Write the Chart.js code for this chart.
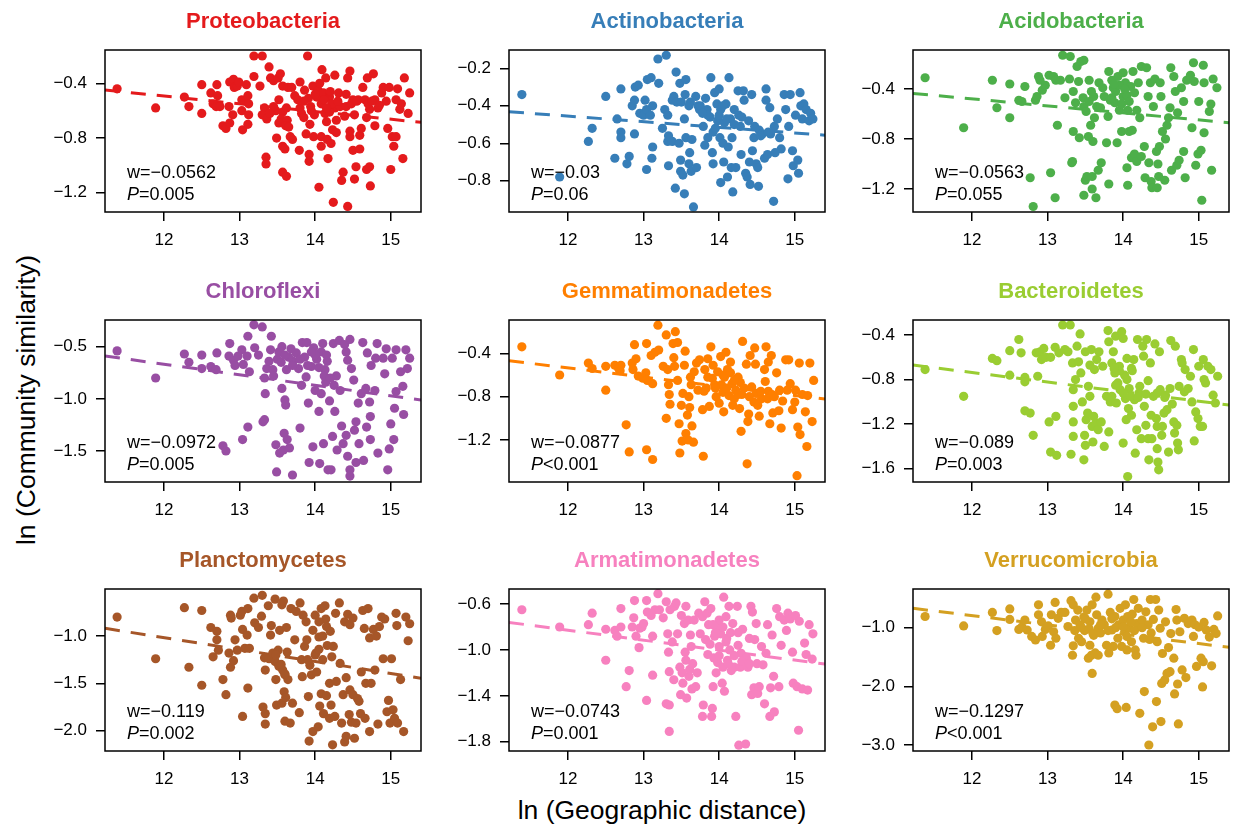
<!DOCTYPE html>
<html>
<head>
<meta charset="utf-8">
<script src="https://cdn.jsdelivr.net/npm/chart.js@4.4.1/dist/chart.umd.min.js"></script>
<style>
  body { margin: 0; background: #fff; }
  #page { position: relative; width: 1236px; height: 827px; overflow: hidden;
          font-family: "Liberation Sans", Arial, Helvetica, sans-serif; }
  canvas { position: absolute; }
  .axis-title { position: absolute; font-size: 26.5px; color: #000; white-space: nowrap; }
  #ylab { left: 26px; top: 400px; transform: translate(-50%, -50%) rotate(-90deg); }
  #xlab { left: 662px; top: 810px; transform: translate(-50%, -50%); }
</style>
</head>
<body>
<div id="page">
  <div id="ylab" class="axis-title">ln (Community similarity)</div>
  <div id="xlab" class="axis-title">ln (Geographic distance)</div>
</div>
<script>
// Panels (phyla), in reading order
const panelNames = ["Proteobacteria", "Actinobacteria", "Acidobacteria",
  "Chloroflexi", "Gemmatimonadetes", "Bacteroidetes",
  "Planctomycetes", "Armatimonadetes", "Verrucomicrobia"];
const panelColors = ["#E41A1C", "#377EB8", "#4DAF4A", "#984EA3", "#FF7F00",
  "#9ACD32", "#A65628", "#F781BF", "#D4A021"];

// Statistics printed in each panel
const wLabels = ["−0.0562", "−0.03", "−0.0563", "−0.0972", "−0.0877",
  "−0.089", "−0.119", "−0.0743", "−0.1297"];
const pLabels = ["=0.005", "=0.06", "=0.055", "=0.005", "<0.001",
  "=0.003", "=0.002", "=0.001", "<0.001"];

// Fitted dashed lines (intercept, slope)
const trendIntercepts = [0.185, -0.095, 0.193, 0.544, 0.481, 0.296, 0.495, 0.216, 1.114];
const trendSlopes = [-0.0565, -0.030, -0.056, -0.101, -0.0846, -0.086, -0.126, -0.087, -0.159];

// Axes
const xMin = 11.22, xMax = 15.40;
const xTicks = [12, 13, 14, 15];
const yMins = [-1.341, -0.967, -1.384, -1.797, -1.588, -1.719, -2.215, -1.881, -3.102];
const yMaxs = [-0.156, -0.102, -0.088, -0.244, -0.092, -0.265, -0.503, -0.469, -0.341];
const yTicks = [
  [-0.4, -0.8, -1.2],
  [-0.2, -0.4, -0.6, -0.8],
  [-0.4, -0.8, -1.2],
  [-0.5, -1.0, -1.5],
  [-0.4, -0.8, -1.2],
  [-0.4, -0.8, -1.2, -1.6],
  [-1.0, -1.5, -2.0],
  [-0.6, -1.0, -1.4, -1.8],
  [-1.0, -2.0, -3.0]
];

// [ln distance, ln similarity] pairs
const proteobacteria = [[11.38,-0.44],[11.89,-0.58],[12.27,-0.50],[12.33,-0.57],[12.50,-0.41],[12.50,-0.62],[12.62,-0.47],[12.65,-0.55],[12.70,-0.41],[12.71,-0.49],[12.69,-0.57],[12.74,-0.57],[12.78,-0.71],[12.82,-0.73],[12.87,-0.69],[12.86,-0.57],[12.87,-0.39],[12.92,-0.37],[12.93,-0.43],[12.91,-0.63],[12.97,-0.42],[12.99,-0.39],[13.03,-0.52],[13.03,-0.60],[13.04,-0.74],[13.09,-0.41],[13.11,-0.49],[13.12,-0.55],[13.12,-0.63],[13.11,-0.70],[13.19,-0.20],[13.30,-0.20],[13.19,-0.35],[13.27,-0.42],[13.33,-0.58],[13.30,-0.63],[13.35,-0.94],[13.35,-0.99],[13.36,-0.66],[13.39,-0.28],[13.41,-0.36],[13.45,-0.38],[13.48,-0.60],[13.49,-0.80],[13.51,-0.36],[13.54,-0.33],[13.57,-0.42],[13.52,-0.52],[13.57,-0.61],[13.55,-0.66],[13.52,-0.69],[13.57,-0.86],[13.60,-0.88],[13.57,-1.05],[13.62,-1.08],[13.63,-0.67],[13.61,-0.71],[13.65,-0.72],[13.64,-0.43],[13.69,-0.43],[13.70,-0.81],[13.67,-0.79],[13.73,-0.49],[13.77,-0.52],[13.79,-0.89],[13.80,-0.39],[13.80,-0.58],[13.82,-0.62],[13.85,-0.65],[13.86,-0.45],[13.88,-0.77],[13.90,-0.20],[13.91,-0.51],[13.92,-0.92],[13.92,-0.97],[13.93,-0.70],[13.94,-0.57],[13.97,-0.42],[13.98,-0.79],[13.99,-0.63],[14.02,-0.50],[14.04,-0.45],[14.05,-1.16],[14.06,-0.40],[14.08,-0.55],[14.08,-0.86],[14.08,-0.79],[14.09,-0.30],[14.11,-0.47],[14.13,-0.62],[14.14,-0.36],[14.15,-0.68],[14.16,-0.81],[14.17,-0.95],[14.19,-0.50],[14.21,-0.84],[14.23,-0.74],[14.24,-1.27],[14.26,-0.34],[14.26,-0.58],[14.28,-0.76],[14.28,-0.67],[14.31,-0.47],[14.33,-0.57],[14.35,-1.11],[14.37,-1.05],[14.39,-0.64],[14.41,-0.48],[14.43,-1.30],[14.43,-0.36],[14.46,-0.31],[14.46,-0.79],[14.46,-0.75],[14.50,-0.89],[14.52,-1.10],[14.54,-1.01],[14.52,-0.63],[14.57,-0.52],[14.59,-0.78],[14.59,-0.88],[14.61,-0.73],[14.63,-0.43],[14.66,-0.52],[14.68,-0.65],[14.68,-1.03],[14.69,-0.36],[14.72,-1.01],[14.73,-1.15],[14.72,-0.59],[14.77,-0.33],[14.79,-0.71],[14.79,-0.52],[14.83,-0.58],[14.88,-0.47],[14.90,-0.43],[14.94,-0.53],[14.96,-0.73],[14.98,-0.43],[15.00,-1.03],[15.02,-0.79],[15.04,-0.86],[15.07,-0.52],[15.07,-0.79],[15.09,-0.44],[15.12,-0.59],[15.16,-0.95],[15.18,-0.36],[15.23,-0.62],[15.25,-0.47],[15.14,-0.55],[14.50,-0.52],[14.41,-0.57],[14.19,-0.61],[14.00,-0.48],[14.12,-0.52],[14.22,-0.55],[14.30,-0.53],[14.48,-0.55],[14.55,-0.53],[14.70,-0.55],[14.75,-0.53],[14.85,-0.56],[13.45,-0.57],[13.40,-0.62],[13.62,-0.58],[13.85,-0.53],[13.95,-0.60],[14.15,-0.58],[14.20,-0.46]];

const actinobacteria = [[11.39,-0.34],[11.89,-0.78],[12.27,-0.59],[12.32,-0.52],[12.50,-0.35],[12.62,-0.68],[12.65,-0.47],[12.70,-0.31],[12.70,-0.54],[12.70,-0.57],[12.78,-0.71],[12.81,-0.67],[12.85,-0.40],[12.88,-0.55],[12.88,-0.37],[12.89,-0.30],[12.93,-0.29],[12.95,-0.44],[13.02,-0.37],[13.00,-0.45],[13.04,-0.42],[13.04,-0.74],[13.05,-0.26],[13.10,-0.25],[13.12,-0.40],[13.12,-0.62],[13.11,-0.68],[13.09,-0.45],[13.19,-0.15],[13.30,-0.13],[13.20,-0.28],[13.25,-0.52],[13.28,-0.42],[13.32,-0.45],[13.32,-0.59],[13.33,-0.72],[13.33,-0.56],[13.38,-0.37],[13.38,-0.59],[13.42,-0.84],[13.43,-0.22],[13.40,-0.35],[13.44,-0.38],[13.47,-0.60],[13.48,-0.28],[13.49,-0.69],[13.49,-0.75],[13.52,-0.77],[13.54,-0.87],[13.54,-0.47],[13.56,-0.26],[13.55,-0.34],[13.56,-0.57],[13.60,-0.71],[13.61,-0.65],[13.62,-0.38],[13.64,-0.58],[13.63,-0.75],[13.66,-0.94],[13.69,-0.35],[13.70,-0.73],[13.72,-0.40],[13.74,-0.42],[13.79,-0.51],[13.81,-0.61],[13.82,-0.36],[13.84,-0.42],[13.85,-0.57],[13.88,-0.46],[13.89,-0.25],[13.91,-0.65],[13.92,-0.71],[13.92,-0.54],[13.94,-0.33],[13.97,-0.39],[13.98,-0.48],[14.00,-0.31],[14.01,-0.57],[14.02,-0.81],[14.02,-0.42],[14.05,-0.60],[14.06,-0.70],[14.07,-0.49],[14.09,-0.39],[14.11,-0.78],[14.13,-0.25],[14.15,-0.47],[14.16,-0.73],[14.17,-0.57],[14.18,-0.86],[14.20,-0.42],[14.22,-0.73],[14.25,-0.32],[14.26,-0.45],[14.28,-0.51],[14.29,-0.66],[14.32,-0.32],[14.33,-0.37],[14.35,-0.76],[14.37,-0.78],[14.39,-0.48],[14.41,-0.82],[14.43,-0.34],[14.44,-0.64],[14.46,-0.57],[14.47,-0.51],[14.49,-0.71],[14.51,-0.73],[14.52,-0.83],[14.53,-0.53],[14.57,-0.55],[14.60,-0.68],[14.62,-0.31],[14.62,-0.37],[14.64,-0.66],[14.67,-0.41],[14.68,-0.55],[14.72,-0.91],[14.73,-0.51],[14.74,-0.65],[14.77,-0.47],[14.80,-0.57],[14.82,-0.63],[14.86,-0.34],[14.88,-0.42],[14.91,-0.79],[14.92,-0.51],[14.94,-0.34],[14.97,-0.64],[14.98,-0.72],[15.01,-0.45],[15.04,-0.69],[15.05,-0.76],[15.07,-0.33],[15.08,-0.40],[15.10,-0.47],[15.12,-0.39],[15.15,-0.42],[15.19,-0.48],[15.21,-0.44],[15.24,-0.47],[13.75,-0.40],[13.85,-0.45],[13.95,-0.52],[14.00,-0.45],[14.05,-0.40],[14.10,-0.47],[14.20,-0.50],[14.30,-0.46],[14.55,-0.56],[14.65,-0.54],[13.50,-0.38],[13.60,-0.40],[13.78,-0.44],[14.12,-0.62],[14.40,-0.70]];

const acidobacteria = [[11.38,-0.31],[11.89,-0.71],[12.27,-0.33],[12.33,-0.55],[12.50,-0.36],[12.50,-0.63],[12.62,-0.49],[12.66,-0.50],[12.70,-0.38],[12.77,-1.11],[12.81,-1.34],[12.84,-0.49],[12.86,-0.46],[12.88,-0.30],[12.90,-0.33],[12.93,-0.41],[12.97,-0.37],[13.02,-0.29],[13.04,-1.07],[13.08,-0.30],[13.10,-1.27],[13.11,-0.33],[13.13,-0.69],[13.17,-0.33],[13.20,-0.13],[13.23,-0.47],[13.30,-0.14],[13.29,-0.32],[13.32,-0.99],[13.33,-0.98],[13.34,-0.42],[13.34,-0.74],[13.37,-0.51],[13.39,-0.22],[13.41,-0.34],[13.42,-0.79],[13.44,-0.18],[13.48,-0.17],[13.47,-0.47],[13.48,-0.54],[13.48,-1.25],[13.50,-1.13],[13.51,-0.58],[13.52,-1.10],[13.54,-0.78],[13.55,-0.33],[13.57,-0.69],[13.59,-1.20],[13.59,-1.10],[13.60,-0.82],[13.61,-0.46],[13.62,-0.63],[13.64,-1.27],[13.65,-0.54],[13.67,-1.05],[13.68,-0.35],[13.71,-0.99],[13.73,-0.39],[13.75,-0.46],[13.78,-0.83],[13.80,-0.62],[13.81,-0.26],[13.81,-1.16],[13.83,-0.49],[13.85,-0.33],[13.87,-0.39],[13.89,-0.51],[13.92,-0.83],[13.93,-0.30],[13.95,-0.57],[13.98,-0.74],[14.00,-0.27],[14.00,-0.46],[14.03,-0.35],[14.05,-1.03],[14.06,-1.17],[14.06,-0.57],[14.08,-0.74],[14.11,-0.95],[14.12,-0.73],[14.13,-0.26],[14.15,-0.92],[14.18,-0.98],[14.18,-0.57],[14.20,-0.35],[14.22,-0.63],[14.24,-0.94],[14.24,-0.22],[14.28,-0.86],[14.29,-1.11],[14.31,-0.23],[14.33,-0.46],[14.34,-0.99],[14.36,-0.35],[14.37,-1.14],[14.38,-1.19],[14.40,-0.54],[14.42,-0.32],[14.44,-0.90],[14.45,-1.19],[14.46,-1.00],[14.47,-1.10],[14.48,-0.86],[14.49,-0.35],[14.50,-0.46],[14.52,-0.74],[14.55,-1.13],[14.56,-0.80],[14.58,-0.69],[14.60,-0.63],[14.62,-0.55],[14.63,-0.23],[14.64,-1.05],[14.67,-0.30],[14.69,-0.42],[14.71,-1.01],[14.72,-0.59],[14.74,-0.97],[14.77,-0.39],[14.80,-0.50],[14.80,-0.90],[14.82,-1.11],[14.84,-0.33],[14.89,-0.29],[14.91,-0.71],[14.93,-0.19],[14.94,-0.34],[14.96,-1.01],[14.99,-0.92],[15.00,-0.50],[15.03,-0.89],[15.04,-1.29],[15.06,-0.21],[15.07,-0.75],[15.07,-0.35],[15.14,-0.58],[15.16,-0.52],[15.17,-1.05],[15.19,-0.32],[15.24,-0.39],[13.90,-0.42],[13.95,-0.37],[14.05,-0.45],[14.10,-0.38],[13.85,-0.47],[14.15,-0.43],[13.98,-0.52],[14.02,-0.40],[13.88,-0.36],[14.08,-0.50],[13.58,-0.42],[13.70,-0.55],[13.55,-0.50]];

const chloroflexi = [[11.38,-0.54],[11.89,-0.80],[12.27,-0.57],[12.33,-0.65],[12.50,-0.58],[12.50,-0.71],[12.62,-0.69],[12.69,-0.72],[12.70,-0.56],[12.78,-1.45],[12.82,-1.50],[12.86,-0.59],[12.87,-0.47],[12.92,-0.63],[12.94,-0.68],[12.98,-0.59],[13.03,-0.53],[13.04,-1.39],[13.05,-0.67],[13.10,-0.59],[13.11,-0.40],[13.11,-1.27],[13.13,-0.74],[13.19,-0.29],[13.30,-0.31],[13.20,-0.51],[13.25,-0.58],[13.31,-1.22],[13.33,-1.20],[13.34,-0.95],[13.33,-0.80],[13.36,-0.71],[13.39,-0.64],[13.41,-0.53],[13.42,-0.40],[13.44,-0.72],[13.48,-1.44],[13.49,-1.70],[13.50,-0.62],[13.52,-0.55],[13.53,-1.52],[13.56,-0.50],[13.56,-0.90],[13.58,-1.49],[13.59,-1.33],[13.60,-1.01],[13.61,-1.06],[13.62,-0.72],[13.63,-1.39],[13.66,-1.47],[13.68,-0.52],[13.70,-1.73],[13.71,-0.64],[13.75,-0.56],[13.78,-0.71],[13.80,-1.28],[13.82,-0.87],[13.83,-0.46],[13.86,-0.60],[13.88,-0.79],[13.89,-0.46],[13.91,-1.04],[13.92,-1.61],[13.95,-0.69],[13.97,-1.46],[13.98,-0.51],[14.00,-0.92],[14.02,-0.62],[14.05,-1.12],[14.06,-1.62],[14.08,-0.55],[14.08,-0.95],[14.10,-0.47],[14.11,-1.43],[14.13,-0.72],[14.14,-0.84],[14.16,-0.64],[14.17,-1.68],[14.19,-1.02],[14.21,-1.68],[14.23,-1.36],[14.24,-0.47],[14.25,-0.87],[14.26,-1.12],[14.28,-0.78],[14.29,-1.49],[14.32,-0.44],[14.33,-0.92],[14.35,-1.26],[14.37,-1.43],[14.39,-0.48],[14.41,-0.55],[14.41,-1.35],[14.43,-0.63],[14.43,-1.55],[14.46,-0.43],[14.46,-1.68],[14.46,-1.74],[14.48,-0.71],[14.51,-0.82],[14.52,-1.30],[14.54,-1.22],[14.54,-1.61],[14.57,-1.04],[14.58,-1.43],[14.61,-0.95],[14.63,-0.46],[14.64,-1.59],[14.67,-0.90],[14.68,-1.27],[14.69,-0.56],[14.72,-1.03],[14.73,-1.17],[14.73,-1.39],[14.74,-0.68],[14.79,-0.92],[14.80,-0.61],[14.82,-0.47],[14.83,-1.52],[14.90,-0.61],[14.92,-0.76],[14.94,-0.52],[14.96,-1.68],[14.98,-1.48],[15.00,-1.24],[15.02,-0.61],[15.04,-1.39],[15.05,-1.09],[15.07,-0.53],[15.07,-0.93],[15.13,-0.74],[15.16,-0.88],[15.17,-1.15],[15.20,-0.53],[15.22,-0.71],[15.25,-0.61],[13.55,-0.65],[13.65,-0.60],[13.80,-0.62],[13.90,-0.68],[14.00,-0.58],[14.05,-0.70],[14.15,-0.58],[13.45,-0.78],[13.70,-0.68],[13.60,-0.58],[14.12,-0.78],[14.20,-0.80],[13.95,-0.55]];

const gemmatimonadetes = [[11.39,-0.34],[11.89,-0.60],[12.27,-0.49],[12.32,-0.54],[12.50,-0.52],[12.50,-0.74],[12.62,-0.51],[12.67,-0.54],[12.70,-0.51],[12.69,-0.56],[12.77,-1.06],[12.81,-1.31],[12.85,-0.49],[12.86,-0.55],[12.88,-0.32],[12.90,-0.45],[12.93,-0.61],[12.99,-0.63],[13.03,-0.58],[13.04,-0.31],[13.04,-1.29],[13.05,-0.65],[13.10,-0.42],[13.12,-1.38],[13.12,-0.68],[13.15,-0.39],[13.19,-0.14],[13.20,-0.37],[13.26,-0.52],[13.30,-0.23],[13.30,-1.00],[13.32,-0.55],[13.33,-0.69],[13.34,-0.78],[13.35,-0.87],[13.39,-0.31],[13.40,-0.44],[13.41,-0.52],[13.42,-0.20],[13.45,-0.30],[13.45,-0.65],[13.47,-1.05],[13.48,-1.32],[13.50,-0.88],[13.51,-1.21],[13.52,-0.77],[13.54,-0.51],[13.55,-0.38],[13.56,-1.14],[13.58,-0.97],[13.59,-1.20],[13.60,-0.80],[13.61,-0.90],[13.62,-0.62],[13.63,-0.69],[13.64,-1.07],[13.66,-1.22],[13.67,-0.57],[13.70,-0.49],[13.72,-0.74],[13.74,-0.46],[13.78,-0.92],[13.79,-1.35],[13.81,-0.55],[13.83,-0.72],[13.85,-0.45],[13.87,-0.89],[13.89,-0.34],[13.91,-0.63],[13.92,-0.51],[13.94,-0.69],[13.96,-0.80],[13.98,-0.57],[14.00,-0.86],[14.02,-0.43],[14.03,-0.69],[14.05,-0.76],[14.06,-0.94],[14.07,-0.62],[14.09,-0.39],[14.11,-0.55],[14.13,-0.79],[14.15,-0.48],[14.17,-0.68],[14.18,-0.88],[14.20,-0.82],[14.22,-0.74],[14.25,-0.62],[14.27,-0.91],[14.28,-0.67],[14.29,-1.12],[14.31,-0.29],[14.33,-0.72],[14.36,-0.50],[14.37,-1.42],[14.38,-1.03],[14.39,-0.96],[14.41,-0.42],[14.43,-0.71],[14.46,-0.85],[14.47,-0.35],[14.48,-0.50],[14.49,-0.77],[14.51,-0.88],[14.53,-0.98],[14.56,-0.82],[14.60,-0.55],[14.61,-0.66],[14.62,-0.34],[14.64,-0.82],[14.65,-0.48],[14.67,-1.05],[14.69,-0.42],[14.71,-0.95],[14.73,-0.80],[14.76,-0.58],[14.79,-0.93],[14.80,-0.74],[14.82,-1.09],[14.84,-0.84],[14.88,-0.46],[14.90,-0.74],[14.92,-0.46],[14.94,-0.68],[14.97,-0.92],[15.00,-0.85],[15.01,-0.74],[15.03,-1.53],[15.04,-1.08],[15.06,-0.49],[15.07,-1.15],[15.10,-0.78],[15.14,-0.94],[15.16,-1.26],[15.17,-0.79],[15.20,-0.49],[15.23,-1.03],[15.25,-0.65],[13.95,-0.72],[14.05,-0.60],[14.10,-0.72],[14.20,-0.65],[14.30,-0.78],[14.40,-0.80],[14.55,-0.75],[14.65,-0.75],[14.70,-0.78],[13.80,-0.75],[13.85,-0.62],[14.15,-0.58],[14.25,-0.78]];

const bacteroidetes = [[11.38,-0.71],[11.89,-0.95],[12.27,-0.61],[12.33,-0.63],[12.50,-0.54],[12.50,-0.76],[12.62,-0.44],[12.65,-0.56],[12.70,-0.78],[12.70,-0.82],[12.70,-1.08],[12.77,-1.10],[12.81,-1.30],[12.85,-0.56],[12.87,-0.77],[12.90,-0.55],[12.92,-0.62],[12.95,-0.52],[12.98,-0.60],[13.02,-1.18],[13.04,-0.60],[13.04,-1.45],[13.10,-0.51],[13.11,-1.13],[13.12,-1.48],[13.15,-0.56],[13.20,-0.31],[13.23,-0.53],[13.30,-0.31],[13.27,-0.55],[13.31,-1.47],[13.33,-0.65],[13.34,-0.89],[13.34,-1.04],[13.34,-1.18],[13.34,-1.31],[13.37,-0.80],[13.39,-0.50],[13.41,-0.64],[13.43,-0.39],[13.44,-0.74],[13.46,-1.00],[13.48,-1.52],[13.49,-1.30],[13.50,-0.55],[13.50,-1.39],[13.51,-1.16],[13.53,-1.10],[13.54,-0.86],[13.56,-0.95],[13.56,-0.67],[13.58,-0.53],[13.59,-1.22],[13.60,-1.36],[13.61,-1.13],[13.62,-0.71],[13.64,-1.19],[13.65,-0.62],[13.67,-1.25],[13.68,-0.55],[13.71,-1.18],[13.73,-0.68],[13.75,-1.40],[13.78,-0.95],[13.80,-0.36],[13.81,-1.27],[13.81,-0.46],[13.83,-1.00],[13.85,-0.65],[13.87,-0.55],[13.89,-0.74],[13.90,-0.41],[13.91,-1.01],[13.93,-0.83],[13.95,-0.68],[13.96,-0.89],[13.98,-0.37],[14.00,-1.37],[14.00,-0.43],[14.02,-0.76],[14.03,-0.97],[14.04,-1.16],[14.05,-0.61],[14.06,-1.67],[14.07,-1.06],[14.08,-0.88],[14.11,-0.70],[14.11,-1.12],[14.14,-0.62],[14.15,-0.98],[14.16,-1.46],[14.18,-1.25],[14.19,-0.44],[14.21,-0.92],[14.22,-0.86],[14.24,-1.33],[14.26,-0.50],[14.27,-0.59],[14.28,-1.04],[14.30,-1.21],[14.31,-0.44],[14.33,-0.81],[14.33,-1.33],[14.34,-1.52],[14.36,-0.65],[14.37,-1.12],[14.38,-1.33],[14.40,-0.95],[14.42,-0.48],[14.44,-1.15],[14.45,-1.22],[14.45,-1.42],[14.46,-1.54],[14.47,-1.61],[14.48,-0.55],[14.49,-0.89],[14.51,-1.30],[14.52,-1.22],[14.54,-1.10],[14.56,-0.94],[14.58,-1.07],[14.60,-1.45],[14.62,-0.88],[14.63,-0.45],[14.65,-1.02],[14.67,-1.18],[14.68,-1.28],[14.69,-0.50],[14.71,-1.21],[14.72,-1.37],[14.73,-1.43],[14.74,-0.86],[14.77,-0.62],[14.78,-0.65],[14.81,-0.91],[14.82,-0.71],[14.86,-0.88],[14.89,-0.77],[14.91,-1.00],[14.93,-0.53],[14.94,-1.35],[14.96,-1.09],[14.99,-1.15],[15.00,-0.68],[15.02,-1.22],[15.05,-1.22],[15.06,-0.62],[15.07,-0.80],[15.09,-0.83],[15.12,-0.68],[15.16,-0.71],[15.19,-0.94],[15.22,-1.01],[15.25,-0.77],[13.85,-0.95],[13.90,-0.85],[14.00,-0.92],[14.05,-0.80],[14.10,-0.95],[14.20,-0.96],[14.30,-0.93],[14.45,-0.92],[14.55,-0.96],[13.95,-0.72],[13.88,-0.70],[14.12,-0.72]];

const planctomycetes = [[11.38,-0.80],[11.89,-1.24],[12.27,-0.70],[12.33,-1.33],[12.50,-0.73],[12.50,-1.52],[12.62,-0.91],[12.65,-1.22],[12.70,-0.95],[12.70,-1.04],[12.72,-1.15],[12.78,-1.46],[12.82,-1.62],[12.86,-1.18],[12.88,-1.33],[12.88,-0.78],[12.89,-0.81],[12.92,-1.26],[12.94,-1.04],[12.97,-1.15],[13.01,-0.78],[13.03,-0.74],[13.04,-0.93],[13.04,-1.85],[13.07,-1.13],[13.10,-0.99],[13.11,-1.55],[13.11,-0.71],[13.13,-1.13],[13.19,-0.60],[13.20,-0.86],[13.25,-0.91],[13.30,-0.57],[13.29,-0.79],[13.31,-1.75],[13.33,-1.23],[13.34,-1.36],[13.34,-1.82],[13.34,-1.93],[13.38,-0.68],[13.39,-1.24],[13.41,-0.99],[13.42,-0.89],[13.44,-1.18],[13.47,-0.61],[13.47,-1.27],[13.48,-1.46],[13.49,-1.73],[13.51,-1.15],[13.52,-1.32],[13.53,-0.94],[13.56,-0.67],[13.56,-1.71],[13.57,-1.36],[13.58,-0.63],[13.59,-1.59],[13.60,-1.41],[13.60,-1.90],[13.61,-1.65],[13.62,-0.91],[13.63,-1.17],[13.64,-1.46],[13.67,-1.92],[13.68,-0.71],[13.70,-1.71],[13.73,-1.04],[13.75,-0.74],[13.79,-1.81],[13.80,-0.65],[13.82,-1.25],[13.83,-1.43],[13.84,-0.78],[13.86,-1.11],[13.88,-0.85],[13.89,-1.04],[13.91,-1.64],[13.92,-2.11],[13.93,-1.31],[13.95,-1.41],[13.97,-0.94],[13.97,-2.01],[14.00,-0.78],[14.01,-1.18],[14.02,-1.38],[14.04,-1.96],[14.05,-1.01],[14.06,-1.74],[14.08,-1.61],[14.08,-0.71],[14.10,-1.25],[14.11,-1.82],[14.13,-0.68],[14.14,-0.82],[14.15,-1.63],[14.16,-1.10],[14.19,-1.50],[14.19,-1.87],[14.21,-1.73],[14.22,-1.22],[14.23,-2.15],[14.24,-1.11],[14.26,-1.85],[14.27,-0.76],[14.28,-1.48],[14.32,-0.65],[14.33,-1.29],[14.35,-1.92],[14.37,-1.62],[14.39,-2.12],[14.39,-0.85],[14.41,-1.44],[14.41,-2.06],[14.43,-0.77],[14.45,-1.83],[14.46,-1.57],[14.46,-0.88],[14.48,-1.91],[14.50,-0.81],[14.50,-1.62],[14.52,-2.08],[14.54,-1.92],[14.56,-1.66],[14.58,-1.69],[14.60,-1.82],[14.61,-1.38],[14.63,-0.73],[14.65,-0.92],[14.66,-1.87],[14.67,-1.50],[14.70,-0.71],[14.72,-2.01],[14.72,-1.02],[14.74,-1.50],[14.77,-0.93],[14.79,-1.36],[14.81,-1.00],[14.83,-1.93],[14.85,-0.90],[14.88,-0.80],[14.90,-1.24],[14.92,-0.82],[14.95,-1.80],[14.97,-1.68],[14.99,-1.92],[15.01,-1.24],[15.03,-1.78],[15.05,-1.87],[15.07,-0.76],[15.08,-0.89],[15.09,-1.92],[15.13,-1.46],[15.17,-2.01],[15.20,-0.80],[15.23,-1.05],[15.25,-0.87],[13.90,-1.25],[14.00,-1.20],[14.05,-1.14],[13.55,-1.30],[13.60,-1.40],[13.48,-1.20],[14.15,-0.90],[14.05,-0.85],[14.20,-0.95],[14.10,-1.00]];

const armatimonadetes = [[11.39,-0.65],[11.89,-0.80],[12.27,-0.78],[12.32,-0.68],[12.50,-0.82],[12.50,-1.09],[12.62,-0.83],[12.65,-0.88],[12.70,-0.64],[12.70,-0.80],[12.77,-1.32],[12.81,-1.18],[12.85,-0.80],[12.87,-0.72],[12.88,-0.57],[12.90,-0.88],[12.94,-0.98],[12.95,-0.81],[12.98,-0.80],[13.00,-0.77],[13.04,-0.57],[13.04,-1.44],[13.05,-0.67],[13.10,-0.70],[13.12,-1.22],[13.12,-0.88],[13.15,-0.65],[13.19,-0.51],[13.21,-0.65],[13.26,-0.72],[13.30,-0.58],[13.30,-1.47],[13.32,-0.86],[13.33,-1.02],[13.34,-1.19],[13.34,-1.48],[13.34,-1.71],[13.35,-0.65],[13.38,-0.93],[13.40,-1.26],[13.41,-0.62],[13.43,-0.59],[13.45,-0.86],[13.48,-1.15],[13.49,-1.39],[13.50,-0.70],[13.51,-1.20],[13.52,-1.29],[13.54,-0.77],[13.55,-1.02],[13.56,-0.62],[13.56,-1.09],[13.57,-1.42],[13.59,-0.74],[13.60,-1.23],[13.61,-1.17],[13.62,-0.87],[13.63,-0.97],[13.64,-1.34],[13.65,-1.12],[13.67,-0.74],[13.69,-1.32],[13.71,-1.20],[13.73,-0.68],[13.75,-0.86],[13.78,-0.71],[13.78,-1.58],[13.79,-1.48],[13.81,-0.58],[13.82,-0.91],[13.84,-0.68],[13.85,-1.04],[13.86,-0.78],[13.89,-0.64],[13.90,-1.58],[13.91,-1.51],[13.92,-1.32],[13.93,-1.07],[13.94,-0.88],[13.96,-1.20],[13.97,-0.80],[13.98,-1.11],[14.00,-0.74],[14.00,-0.97],[14.02,-0.86],[14.04,-1.29],[14.05,-1.15],[14.06,-0.54],[14.07,-1.36],[14.09,-0.71],[14.09,-0.93],[14.11,-1.09],[14.13,-0.62],[14.14,-1.00],[14.16,-1.18],[14.18,-0.77],[14.20,-1.15],[14.22,-1.58],[14.24,-0.62],[14.25,-0.96],[14.26,-1.83],[14.28,-1.15],[14.29,-1.03],[14.31,-0.82],[14.35,-1.82],[14.36,-1.07],[14.38,-1.15],[14.40,-0.90],[14.42,-0.62],[14.43,-1.39],[14.44,-0.67],[14.46,-1.33],[14.47,-0.91],[14.49,-0.77],[14.50,-1.12],[14.51,-1.38],[14.53,-1.32],[14.56,-0.97],[14.58,-1.13],[14.60,-1.47],[14.62,-1.03],[14.64,-0.78],[14.67,-1.58],[14.68,-1.33],[14.70,-0.87],[14.72,-1.23],[14.73,-1.54],[14.76,-0.64],[14.79,-1.32],[14.80,-0.71],[14.82,-0.96],[14.86,-0.74],[14.89,-0.83],[14.91,-0.68],[14.94,-0.73],[14.97,-1.02],[14.98,-1.29],[15.01,-0.70],[15.03,-1.32],[15.05,-1.70],[15.06,-0.75],[15.10,-1.34],[15.13,-0.94],[15.15,-1.04],[15.17,-1.35],[15.19,-0.78],[15.23,-1.08],[15.24,-0.86],[13.95,-0.85],[14.05,-0.80],[14.10,-0.90],[14.15,-0.85],[14.20,-1.05],[14.30,-1.10],[14.40,-1.12],[13.88,-0.95],[14.00,-1.05],[14.12,-1.12],[14.25,-0.85],[13.92,-0.78]];

const verrucomicrobia = [[11.38,-0.81],[11.89,-0.97],[12.27,-0.74],[12.33,-1.05],[12.50,-0.68],[12.50,-0.86],[12.62,-1.03],[12.66,-0.99],[12.70,-0.87],[12.73,-1.04],[12.79,-1.15],[12.84,-1.21],[12.88,-0.61],[12.88,-0.78],[12.92,-0.90],[12.93,-1.15],[12.97,-1.03],[13.01,-0.97],[13.04,-1.30],[13.05,-0.78],[13.08,-1.07],[13.10,-0.57],[13.11,-1.18],[13.14,-0.84],[13.18,-0.74],[13.23,-0.74],[13.27,-0.98],[13.31,-0.54],[13.33,-1.47],[13.34,-0.61],[13.34,-1.31],[13.36,-1.05],[13.37,-0.87],[13.40,-0.70],[13.41,-1.18],[13.43,-0.95],[13.45,-1.24],[13.48,-0.82],[13.49,-1.05],[13.52,-0.70],[13.54,-1.52],[13.56,-1.30],[13.56,-0.90],[13.58,-1.47],[13.59,-1.78],[13.59,-0.61],[13.61,-1.13],[13.63,-1.43],[13.64,-0.48],[13.65,-0.78],[13.67,-1.47],[13.67,-1.01],[13.70,-1.09],[13.72,-0.87],[13.75,-0.95],[13.78,-1.30],[13.80,-0.43],[13.81,-1.43],[13.83,-0.74],[13.85,-1.04],[13.87,-1.32],[13.89,-2.32],[13.89,-0.81],[13.92,-2.38],[13.93,-1.18],[13.94,-0.95],[13.96,-0.67],[13.98,-1.32],[14.00,-0.87],[14.02,-1.07],[14.03,-0.61],[14.04,-2.36],[14.05,-1.38],[14.06,-0.81],[14.08,-1.01],[14.11,-1.24],[14.12,-0.77],[14.14,-0.52],[14.16,-1.38],[14.17,-1.47],[14.18,-0.93],[14.20,-0.67],[14.22,-2.46],[14.25,-0.87],[14.27,-1.18],[14.28,-2.09],[14.30,-0.73],[14.33,-0.95],[14.34,-3.00],[14.36,-0.52],[14.37,-1.09],[14.39,-2.69],[14.40,-0.86],[14.43,-0.52],[14.44,-2.26],[14.45,-1.24],[14.47,-0.70],[14.49,-1.01],[14.50,-2.60],[14.51,-1.95],[14.52,-1.44],[14.55,-1.89],[14.56,-0.90],[14.58,-1.78],[14.60,-1.34],[14.62,-1.75],[14.63,-1.10],[14.67,-1.52],[14.68,-2.13],[14.70,-0.69],[14.71,-0.87],[14.72,-1.96],[14.73,-2.64],[14.75,-1.07],[14.78,-1.72],[14.81,-0.84],[14.83,-1.85],[14.86,-0.93],[14.91,-0.87],[14.93,-1.15],[14.95,-0.95],[14.97,-1.66],[15.00,-0.99],[15.03,-1.52],[15.05,-2.01],[15.06,-1.58],[15.07,-0.91],[15.10,-1.04],[15.14,-1.16],[15.17,-1.65],[15.20,-1.03],[15.23,-1.10],[15.25,-0.80],[13.45,-1.00],[13.55,-1.02],[13.70,-0.95],[13.90,-1.00],[14.00,-0.98],[14.10,-0.90],[14.15,-1.05],[14.25,-1.00],[13.60,-1.10],[13.80,-1.05],[14.35,-1.20],[13.50,-0.85],[13.85,-0.85],[14.05,-1.15]];

const panelPoints = [proteobacteria, actinobacteria, acidobacteria, chloroflexi,
  gemmatimonadetes, bacteroidetes, planctomycetes, armatimonadetes, verrucomicrobia];

// Layout of the 3 x 3 grid (plot boxes, in page pixels)
const boxLeft = [105, 509, 913];
const boxTop = [50, 320, 589];
const boxW = 316, boxH = 162;
const padL = 80, padT = 50, padR = 6, padB = 45;
const fontFamily = "'Liberation Sans', Arial, Helvetica, sans-serif";

Chart.defaults.font.family = fontFamily;
Chart.defaults.color = "#000";

// R-style box around the plotting region
const frame = {
  id: "frame",
  afterDatasetsDraw(chart) {
    const a = chart.chartArea;
    const ctx = chart.ctx;
    ctx.save();
    ctx.strokeStyle = "#000";
    ctx.lineWidth = 1.5;
    ctx.strokeRect(a.left, a.top, a.right - a.left, a.bottom - a.top);
    ctx.restore();
  }
};

// "w=..." and italic "P=..." in the lower left corner
const statsText = {
  id: "statsText",
  afterDraw(chart, args, opts) {
    const a = chart.chartArea;
    const ctx = chart.ctx;
    const x0 = a.left + 22;
    ctx.save();
    ctx.fillStyle = "#000";
    ctx.textAlign = "left";
    ctx.textBaseline = "middle";
    ctx.font = "18px " + fontFamily;
    ctx.fillText("w=" + opts.w, x0, a.bottom - 39);
    ctx.font = "italic 18px " + fontFamily;
    ctx.fillText("P", x0, a.bottom - 17);
    const pw = ctx.measureText("P").width;
    ctx.font = "18px " + fontFamily;
    ctx.fillText(opts.p, x0 + pw, a.bottom - 17);
    ctx.restore();
  }
};

const page = document.getElementById("page");

panelNames.forEach(function (name, i) {
  const col = i % 3;
  const row = Math.floor(i / 3);
  const canvas = document.createElement("canvas");
  canvas.width = boxW + padL + padR;
  canvas.height = boxH + padT + padB;
  canvas.style.left = (boxLeft[col] - padL) + "px";
  canvas.style.top = (boxTop[row] - padT) + "px";
  page.appendChild(canvas);

  const a = trendIntercepts[i];
  const b = trendSlopes[i];

  new Chart(canvas.getContext("2d"), {
    type: "scatter",
    data: {
      datasets: [
        {
          data: panelPoints[i].map(function (p) { return { x: p[0], y: p[1] }; }),
          backgroundColor: panelColors[i],
          borderWidth: 0,
          pointRadius: 4.6,
          pointHoverRadius: 4.6,
        },
        {
          data: [{ x: xMin, y: a + b * xMin }, { x: xMax, y: a + b * xMax }],
          showLine: true,
          borderColor: panelColors[i],
          borderWidth: 3,
          borderDash: [15, 11],
          pointRadius: 0,
        },
      ],
    },
    options: {
      responsive: false,
      animation: false,
      events: [],
      layout: { padding: { left: 0, right: padR, top: 0, bottom: 0 } },
      scales: {
        x: {
          type: "linear",
          min: xMin,
          max: xMax,
          afterBuildTicks: function (s) { s.ticks = xTicks.map(function (v) { return { value: v }; }); },
          afterFit: function (s) { s.height = padB; },
          ticks: { font: { size: 17 }, padding: 9, maxRotation: 0, color: "#000" },
          grid: { drawOnChartArea: false, drawTicks: true, tickLength: 9, color: "#000", lineWidth: 1.5 },
          border: { display: false },
        },
        y: {
          type: "linear",
          min: yMins[i],
          max: yMaxs[i],
          afterBuildTicks: function (s) { s.ticks = yTicks[i].map(function (v) { return { value: v }; }); },
          afterFit: function (s) { s.width = padL; },
          ticks: {
            font: { size: 17 },
            padding: 9,
            color: "#000",
            callback: function (v) { return v.toFixed(1).replace("-", "−"); },
          },
          grid: { drawOnChartArea: false, drawTicks: true, tickLength: 9, color: "#000", lineWidth: 1.5 },
          border: { display: false },
        },
      },
      plugins: {
        legend: { display: false },
        tooltip: { enabled: false },
        title: {
          display: true,
          text: name,
          color: panelColors[i],
          fullSize: false,
          font: { size: 22, weight: "bold" },
          padding: { top: 8.5, bottom: 15.1 },
        },
        statsText: { w: wLabels[i], p: pLabels[i] },
      },
    },
    plugins: [frame, statsText],
  });
});
</script>
</body>
</html>
